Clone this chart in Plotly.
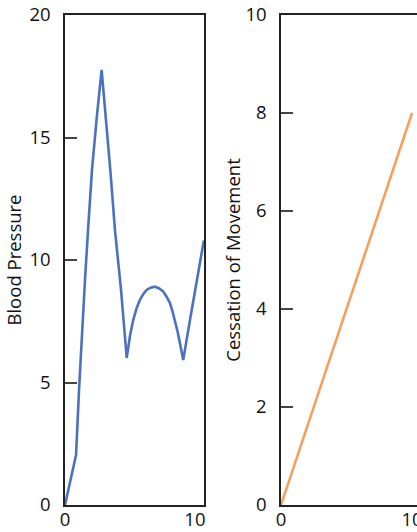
import plotly.graph_objects as go
from plotly.subplots import make_subplots

# Left panel: blood pressure curve
bp_x = [0, 0.85, 1.08, 1.31, 1.54, 1.77, 2.08, 2.46, 2.82, 3.5, 3.85, 4.31, 4.75,
        5.0, 5.25, 5.51, 5.77, 6.03, 6.28, 6.59, 6.92, 7.26, 7.56, 7.82, 8.08,
        8.28, 8.46, 8.67, 8.85, 9.1, 9.62, 10.13, 10.69]
bp_y = [0, 2.04, 4.7, 6.7, 9.2, 11.2, 13.7, 15.9, 17.76, 13.6, 11.2, 8.8, 6.0,
        6.9, 7.55, 8.03, 8.37, 8.61, 8.78, 8.87, 8.91, 8.84, 8.71, 8.5, 8.24,
        7.89, 7.55, 7.07, 6.6, 5.92, 7.55, 9.18, 10.8]

# Right panel: cessation of movement
cm_x = [0, 10]
cm_y = [0, 8]

left_yticks = [0, 5, 10, 15, 20]
right_yticks = [0, 2, 4, 6, 8, 10]
xticks = [0, 10]

W, H = 417, 532
ML = 6
PW = W - ML
fig = make_subplots(rows=1, cols=2)
fig.add_trace(go.Scatter(x=bp_x, y=bp_y, mode="lines",
                         line=dict(color="#4A72C1", width=2.6)), row=1, col=1)
fig.add_trace(go.Scatter(x=cm_x, y=cm_y, mode="lines",
                         line=dict(color="#F5A05E", width=2.6)), row=1, col=2)

font = "Open Sans, DejaVu Sans, sans-serif"
axis_common = dict(showline=True, linecolor="#222", linewidth=1.5, mirror=True,
                   showgrid=False, zeroline=False, automargin=False,
                   ticklabeloverflow="allow",
                   tickfont=dict(family=font, size=18.5, color="#111"))

fig.update_xaxes(**axis_common, tickvals=xticks, ticks="",
                 ticklen=0, ticklabelstandoff=-3)
fig.update_yaxes(**axis_common, ticks="inside", ticklen=12, tickwidth=1.5,
                 tickcolor="#444", ticklabelstandoff=9)
fig.update_yaxes(range=[0, 20], tickvals=left_yticks, row=1, col=1,
                 title=dict(text="Blood Pressure", font=dict(family=font, size=18.5, color="#111"), standoff=3))
fig.update_yaxes(range=[0, 10], tickvals=right_yticks, row=1, col=2, mirror=False,
                 title=dict(text="Cessation of Movement", font=dict(family=font, size=18.5, color="#111"), standoff=0))

fig.update_layout(
    width=W, height=H,
    margin=dict(l=ML, r=0, t=15, b=27),
    plot_bgcolor="white", paper_bgcolor="white",
    showlegend=False,
    xaxis=dict(domain=[(65 - ML) / PW, (204 - ML) / PW], range=[0, 10.7]),
    xaxis2=dict(domain=[(281 - ML) / PW, 1.0], range=[0, 10.38]),
)

fig.write_html("out.html", config={"displayModeBar": False},
               post_script="document.body.style.margin='0';document.body.style.overflow='hidden';")
